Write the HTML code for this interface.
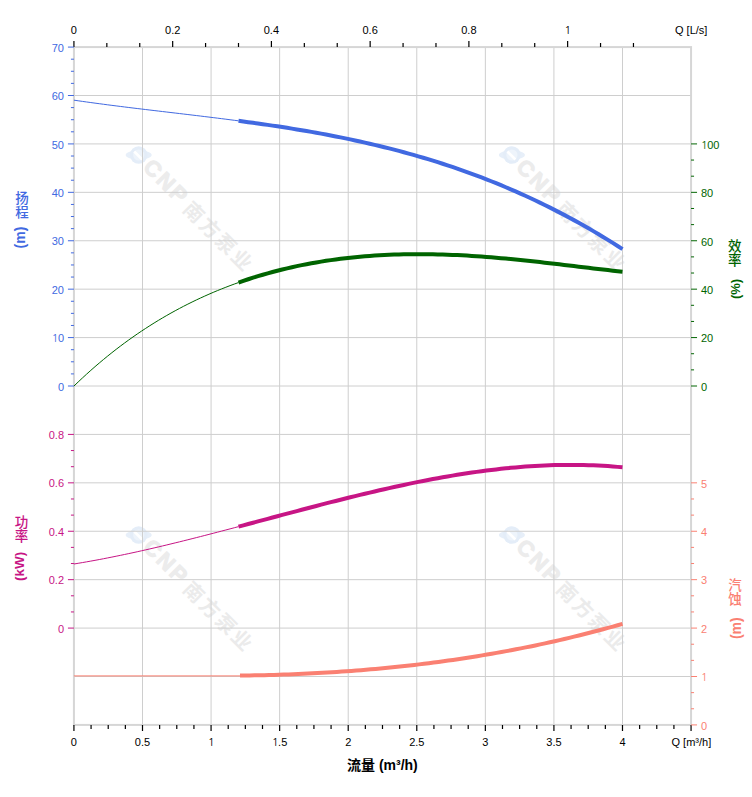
<!DOCTYPE html><html><head><meta charset="utf-8"><title>Pump curve</title><style>html,body{margin:0;padding:0;background:#fff;}svg{display:block;}text{font-family:'Liberation Sans', Arial, sans-serif;}</style></head><body><svg width="752" height="797" viewBox="0 0 752 797"><rect width="752" height="797" fill="#fff"/><g transform="translate(138.7,154.5)"><ellipse cx="0" cy="0.5" rx="13" ry="4.5" fill="#E7EFF9"/><circle cx="0" cy="0.5" r="8.8" fill="#E4EDF8"/><circle cx="0" cy="0.5" r="5.6" fill="#EEF4FB"/><path d="M-4.5,-3 L3.5,5" stroke="#FFFFFF" stroke-width="2.6" fill="none"/></g><g transform="translate(138.7,154.5) rotate(45)"><text x="12" y="7.5" font-size="22" font-weight="bold" letter-spacing="2.5" fill="#ECECEC" stroke="#ECECEC" stroke-width="1" style="font-family:'Liberation Sans', Arial, sans-serif">CNP</text><text x="70" y="9" font-size="20" font-weight="bold" letter-spacing="2.5" fill="#EBEBEB" style="font-family:'Liberation Sans', 'Noto Sans CJK SC', sans-serif">南方泵业</text></g><g transform="translate(511.9,154.5)"><ellipse cx="0" cy="0.5" rx="13" ry="4.5" fill="#E7EFF9"/><circle cx="0" cy="0.5" r="8.8" fill="#E4EDF8"/><circle cx="0" cy="0.5" r="5.6" fill="#EEF4FB"/><path d="M-4.5,-3 L3.5,5" stroke="#FFFFFF" stroke-width="2.6" fill="none"/></g><g transform="translate(511.9,154.5) rotate(45)"><text x="12" y="7.5" font-size="22" font-weight="bold" letter-spacing="2.5" fill="#ECECEC" stroke="#ECECEC" stroke-width="1" style="font-family:'Liberation Sans', Arial, sans-serif">CNP</text><text x="70" y="9" font-size="20" font-weight="bold" letter-spacing="2.5" fill="#EBEBEB" style="font-family:'Liberation Sans', 'Noto Sans CJK SC', sans-serif">南方泵业</text></g><g transform="translate(138.7,534.5)"><ellipse cx="0" cy="0.5" rx="13" ry="4.5" fill="#E7EFF9"/><circle cx="0" cy="0.5" r="8.8" fill="#E4EDF8"/><circle cx="0" cy="0.5" r="5.6" fill="#EEF4FB"/><path d="M-4.5,-3 L3.5,5" stroke="#FFFFFF" stroke-width="2.6" fill="none"/></g><g transform="translate(138.7,534.5) rotate(45)"><text x="12" y="7.5" font-size="22" font-weight="bold" letter-spacing="2.5" fill="#ECECEC" stroke="#ECECEC" stroke-width="1" style="font-family:'Liberation Sans', Arial, sans-serif">CNP</text><text x="70" y="9" font-size="20" font-weight="bold" letter-spacing="2.5" fill="#EBEBEB" style="font-family:'Liberation Sans', 'Noto Sans CJK SC', sans-serif">南方泵业</text></g><g transform="translate(511.9,534.5)"><ellipse cx="0" cy="0.5" rx="13" ry="4.5" fill="#E7EFF9"/><circle cx="0" cy="0.5" r="8.8" fill="#E4EDF8"/><circle cx="0" cy="0.5" r="5.6" fill="#EEF4FB"/><path d="M-4.5,-3 L3.5,5" stroke="#FFFFFF" stroke-width="2.6" fill="none"/></g><g transform="translate(511.9,534.5) rotate(45)"><text x="12" y="7.5" font-size="22" font-weight="bold" letter-spacing="2.5" fill="#ECECEC" stroke="#ECECEC" stroke-width="1" style="font-family:'Liberation Sans', Arial, sans-serif">CNP</text><text x="70" y="9" font-size="20" font-weight="bold" letter-spacing="2.5" fill="#EBEBEB" style="font-family:'Liberation Sans', 'Noto Sans CJK SC', sans-serif">南方泵业</text></g><path d="M142.50,47.08V724.92M211.07,47.08V724.92M279.64,47.08V724.92M348.21,47.08V724.92M416.78,47.08V724.92M485.35,47.08V724.92M553.92,47.08V724.92M622.49,47.08V724.92M73.93,95.50H691.06M73.93,143.91H691.06M73.93,192.33H691.06M73.93,240.75H691.06M73.93,289.17H691.06M73.93,337.58H691.06M73.93,386.00H691.06M73.93,434.42H691.06M73.93,482.83H691.06M73.93,531.25H691.06M73.93,579.67H691.06M73.93,628.08H691.06M73.93,676.50H691.06" stroke="#CECECE" stroke-width="1" fill="none"/><rect x="73.93" y="47.08" width="617.13" height="677.84" fill="none" stroke="#D6D6D6" stroke-width="2"/><path d="M73.93,41.08V47.08M106.84,42.88V47.08M139.76,42.88V47.08M172.67,41.08V47.08M205.58,42.88V47.08M238.50,42.88V47.08M271.41,41.08V47.08M304.33,42.88V47.08M337.24,42.88V47.08M370.15,41.08V47.08M403.07,42.88V47.08M435.98,42.88V47.08M468.89,41.08V47.08M501.81,42.88V47.08M534.72,42.88V47.08M567.63,41.08V47.08M600.55,42.88V47.08M633.46,42.88V47.08M73.93,724.92V730.92M91.07,724.92V728.92M108.22,724.92V728.92M125.36,724.92V728.92M142.50,724.92V730.92M159.64,724.92V728.92M176.78,724.92V728.92M193.93,724.92V728.92M211.07,724.92V730.92M228.21,724.92V728.92M245.35,724.92V728.92M262.50,724.92V728.92M279.64,724.92V730.92M296.78,724.92V728.92M313.92,724.92V728.92M331.07,724.92V728.92M348.21,724.92V730.92M365.35,724.92V728.92M382.49,724.92V728.92M399.64,724.92V728.92M416.78,724.92V730.92M433.92,724.92V728.92M451.06,724.92V728.92M468.21,724.92V728.92M485.35,724.92V730.92M502.49,724.92V728.92M519.63,724.92V728.92M536.78,724.92V728.92M553.92,724.92V730.92M571.06,724.92V728.92M588.20,724.92V728.92M605.35,724.92V728.92M622.49,724.92V730.92M639.63,724.92V728.92M656.77,724.92V728.92M673.92,724.92V728.92M691.06,724.92V730.92" stroke="#000" stroke-width="1.2" fill="none"/><text x="73.93" y="34" font-size="11" fill="#000" text-anchor="middle">0</text><text x="172.67" y="34" font-size="11" fill="#000" text-anchor="middle">0.2</text><text x="271.41" y="34" font-size="11" fill="#000" text-anchor="middle">0.4</text><text x="370.15" y="34" font-size="11" fill="#000" text-anchor="middle">0.6</text><text x="468.89" y="34" font-size="11" fill="#000" text-anchor="middle">0.8</text><text x="567.63" y="34" font-size="11" fill="#000" text-anchor="middle"><tspan style="font-family:NanumGothic,'Liberation Sans',sans-serif" letter-spacing="-0.55">1</tspan></text><text x="675" y="34" font-size="11" fill="#000">Q [L/s]</text><text x="73.93" y="746" font-size="11" fill="#000" text-anchor="middle">0</text><text x="142.50" y="746" font-size="11" fill="#000" text-anchor="middle">0.5</text><text x="211.07" y="746" font-size="11" fill="#000" text-anchor="middle"><tspan style="font-family:NanumGothic,'Liberation Sans',sans-serif" letter-spacing="-0.55">1</tspan></text><text x="279.64" y="746" font-size="11" fill="#000" text-anchor="middle"><tspan style="font-family:NanumGothic,'Liberation Sans',sans-serif" letter-spacing="-0.55">1</tspan>.5</text><text x="348.21" y="746" font-size="11" fill="#000" text-anchor="middle">2</text><text x="416.78" y="746" font-size="11" fill="#000" text-anchor="middle">2.5</text><text x="485.35" y="746" font-size="11" fill="#000" text-anchor="middle">3</text><text x="553.92" y="746" font-size="11" fill="#000" text-anchor="middle">3.5</text><text x="622.49" y="746" font-size="11" fill="#000" text-anchor="middle">4</text><text x="671.5" y="746" font-size="11" fill="#000">Q [m³/h]</text><path d="M67.93,386.00H73.93M70.93,373.90H73.93M70.93,361.79H73.93M70.93,349.69H73.93M67.93,337.58H73.93M70.93,325.48H73.93M70.93,313.37H73.93M70.93,301.27H73.93M67.93,289.17H73.93M70.93,277.06H73.93M70.93,264.96H73.93M70.93,252.85H73.93M67.93,240.75H73.93M70.93,228.64H73.93M70.93,216.54H73.93M70.93,204.44H73.93M67.93,192.33H73.93M70.93,180.23H73.93M70.93,168.12H73.93M70.93,156.02H73.93M67.93,143.91H73.93M70.93,131.81H73.93M70.93,119.71H73.93M70.93,107.60H73.93M67.93,95.50H73.93M70.93,83.39H73.93M70.93,71.29H73.93M70.93,59.19H73.93M67.93,47.08H73.93" stroke="#4169E1" stroke-width="1" fill="none"/><text x="64" y="390.60" font-size="11" fill="#4169E1" text-anchor="end">0</text><text x="64" y="342.18" font-size="11" fill="#4169E1" text-anchor="end"><tspan style="font-family:NanumGothic,'Liberation Sans',sans-serif" letter-spacing="-0.55">1</tspan>0</text><text x="64" y="293.77" font-size="11" fill="#4169E1" text-anchor="end">20</text><text x="64" y="245.35" font-size="11" fill="#4169E1" text-anchor="end">30</text><text x="64" y="196.93" font-size="11" fill="#4169E1" text-anchor="end">40</text><text x="64" y="148.51" font-size="11" fill="#4169E1" text-anchor="end">50</text><text x="64" y="100.10" font-size="11" fill="#4169E1" text-anchor="end">60</text><text x="64" y="51.68" font-size="11" fill="#4169E1" text-anchor="end">70</text><path d="M67.93,628.08H73.93M70.93,611.94H73.93M70.93,595.80H73.93M67.93,579.66H73.93M70.93,563.52H73.93M70.93,547.38H73.93M67.93,531.25H73.93M70.93,515.11H73.93M70.93,498.97H73.93M67.93,482.83H73.93M70.93,466.69H73.93M70.93,450.55H73.93M67.93,434.41H73.93" stroke="#C71585" stroke-width="1" fill="none"/><text x="64" y="632.68" font-size="11" fill="#C71585" text-anchor="end">0</text><text x="64" y="584.26" font-size="11" fill="#C71585" text-anchor="end">0.2</text><text x="64" y="535.85" font-size="11" fill="#C71585" text-anchor="end">0.4</text><text x="64" y="487.43" font-size="11" fill="#C71585" text-anchor="end">0.6</text><text x="64" y="439.01" font-size="11" fill="#C71585" text-anchor="end">0.8</text><path d="M691.06,386.00H697.06M691.06,369.86H694.06M691.06,353.72H694.06M691.06,337.58H697.06M691.06,321.44H694.06M691.06,305.31H694.06M691.06,289.17H697.06M691.06,273.03H694.06M691.06,256.89H694.06M691.06,240.75H697.06M691.06,224.61H694.06M691.06,208.47H694.06M691.06,192.33H697.06M691.06,176.19H694.06M691.06,160.05H694.06M691.06,143.91H697.06" stroke="#006400" stroke-width="1" fill="none"/><text x="701" y="390.80" font-size="11" fill="#006400">0</text><text x="701" y="342.38" font-size="11" fill="#006400">20</text><text x="701" y="293.97" font-size="11" fill="#006400">40</text><text x="701" y="245.55" font-size="11" fill="#006400">60</text><text x="701" y="197.13" font-size="11" fill="#006400">80</text><text x="701" y="148.72" font-size="11" fill="#006400"><tspan style="font-family:NanumGothic,'Liberation Sans',sans-serif" letter-spacing="-0.55">1</tspan>00</text><path d="M691.06,724.92H697.06M691.06,708.78H694.06M691.06,692.64H694.06M691.06,676.50H697.06M691.06,660.36H694.06M691.06,644.22H694.06M691.06,628.09H697.06M691.06,611.95H694.06M691.06,595.81H694.06M691.06,579.67H697.06M691.06,563.53H694.06M691.06,547.39H694.06M691.06,531.25H697.06M691.06,515.11H694.06M691.06,498.97H694.06M691.06,482.83H697.06" stroke="#FA8072" stroke-width="1" fill="none"/><text x="701" y="729.72" font-size="11" fill="#FA8072">0</text><text x="701" y="681.30" font-size="11" fill="#FA8072"><tspan style="font-family:NanumGothic,'Liberation Sans',sans-serif" letter-spacing="-0.55">1</tspan></text><text x="701" y="632.89" font-size="11" fill="#FA8072">2</text><text x="701" y="584.47" font-size="11" fill="#FA8072">3</text><text x="701" y="536.05" font-size="11" fill="#FA8072">4</text><text x="701" y="487.63" font-size="11" fill="#FA8072">5</text><path d="M73.93,100.16 L78.15,100.78 L82.37,101.38 L86.59,101.98 L90.81,102.56 L95.03,103.14 L99.25,103.70 L103.47,104.26 L107.69,104.82 L111.91,105.36 L116.13,105.90 L120.35,106.43 L124.57,106.96 L128.79,107.49 L133.01,108.00 L137.23,108.52 L141.45,109.03 L145.66,109.54 L149.88,110.04 L154.10,110.54 L158.32,111.04 L162.54,111.54 L166.76,112.04 L170.98,112.54 L175.20,113.04 L179.42,113.54 L183.64,114.04 L187.86,114.54 L192.08,115.05 L196.30,115.55 L200.52,116.06 L204.74,116.58 L208.96,117.09 L213.18,117.61 L217.40,118.14 L221.62,118.67 L225.84,119.20 L230.06,119.74 L234.28,120.29 L238.50,120.84" stroke="#4169E1" stroke-width="1" fill="none"/><path d="M238.50,120.84 L243.36,121.49 L248.22,122.15 L253.08,122.82 L257.94,123.50 L262.80,124.19 L267.66,124.89 L272.52,125.61 L277.38,126.34 L282.24,127.09 L287.10,127.85 L291.97,128.63 L296.83,129.42 L301.69,130.23 L306.55,131.06 L311.41,131.90 L316.27,132.77 L321.13,133.65 L325.99,134.56 L330.85,135.48 L335.71,136.43 L340.57,137.40 L345.43,138.39 L350.29,139.40 L355.15,140.44 L360.01,141.50 L364.88,142.59 L369.74,143.70 L374.60,144.83 L379.46,146.00 L384.32,147.19 L389.18,148.40 L394.04,149.65 L398.90,150.92 L403.76,152.23 L408.62,153.56 L413.48,154.92 L418.34,156.32 L423.20,157.74 L428.06,159.20 L432.92,160.69 L437.78,162.21 L442.65,163.76 L447.51,165.35 L452.37,166.97 L457.23,168.63 L462.09,170.32 L466.95,172.05 L471.81,173.82 L476.67,175.62 L481.53,177.46 L486.39,179.34 L491.25,181.25 L496.11,183.21 L500.97,185.20 L505.83,187.23 L510.69,189.31 L515.56,191.42 L520.42,193.57 L525.28,195.77 L530.14,198.01 L535.00,200.29 L539.86,202.61 L544.72,204.98 L549.58,207.39 L554.44,209.85 L559.30,212.35 L564.16,214.89 L569.02,217.48 L573.88,220.12 L578.74,222.80 L583.60,225.53 L588.47,228.31 L593.33,231.13 L598.19,234.01 L603.05,236.93 L607.91,239.90 L612.77,242.92 L617.63,245.99 L622.49,249.11" stroke="#4169E1" stroke-width="4" fill="none" stroke-linejoin="round"/><path d="M73.93,386.07 L78.15,382.01 L82.37,378.04 L86.59,374.16 L90.81,370.37 L95.03,366.66 L99.25,363.04 L103.47,359.50 L107.69,356.05 L111.91,352.67 L116.13,349.37 L120.35,346.15 L124.57,343.00 L128.79,339.93 L133.01,336.94 L137.23,334.01 L141.45,331.16 L145.66,328.38 L149.88,325.66 L154.10,323.01 L158.32,320.43 L162.54,317.91 L166.76,315.46 L170.98,313.07 L175.20,310.74 L179.42,308.47 L183.64,306.26 L187.86,304.11 L192.08,302.02 L196.30,299.98 L200.52,298.00 L204.74,296.08 L208.96,294.21 L213.18,292.39 L217.40,290.63 L221.62,288.91 L225.84,287.25 L230.06,285.64 L234.28,284.07 L238.50,282.55" stroke="#006400" stroke-width="1" fill="none"/><path d="M238.50,282.55 L243.36,280.87 L248.22,279.24 L253.08,277.68 L257.94,276.17 L262.80,274.73 L267.66,273.34 L272.52,272.01 L277.38,270.73 L282.24,269.51 L287.10,268.34 L291.97,267.23 L296.83,266.16 L301.69,265.15 L306.55,264.19 L311.41,263.28 L316.27,262.42 L321.13,261.60 L325.99,260.83 L330.85,260.11 L335.71,259.43 L340.57,258.80 L345.43,258.21 L350.29,257.67 L355.15,257.17 L360.01,256.70 L364.88,256.28 L369.74,255.90 L374.60,255.56 L379.46,255.26 L384.32,255.00 L389.18,254.77 L394.04,254.58 L398.90,254.42 L403.76,254.31 L408.62,254.22 L413.48,254.17 L418.34,254.15 L423.20,254.16 L428.06,254.21 L432.92,254.29 L437.78,254.39 L442.65,254.53 L447.51,254.69 L452.37,254.88 L457.23,255.10 L462.09,255.35 L466.95,255.62 L471.81,255.91 L476.67,256.23 L481.53,256.57 L486.39,256.93 L491.25,257.31 L496.11,257.72 L500.97,258.14 L505.83,258.58 L510.69,259.04 L515.56,259.51 L520.42,260.00 L525.28,260.50 L530.14,261.02 L535.00,261.55 L539.86,262.09 L544.72,262.64 L549.58,263.20 L554.44,263.76 L559.30,264.33 L564.16,264.91 L569.02,265.49 L573.88,266.07 L578.74,266.66 L583.60,267.24 L588.47,267.82 L593.33,268.40 L598.19,268.97 L603.05,269.54 L607.91,270.10 L612.77,270.65 L617.63,271.19 L622.49,271.71" stroke="#006400" stroke-width="4" fill="none" stroke-linejoin="round"/><path d="M73.93,564.00 L78.15,563.30 L82.37,562.59 L86.59,561.85 L90.81,561.10 L95.03,560.33 L99.25,559.55 L103.47,558.74 L107.69,557.92 L111.91,557.09 L116.13,556.23 L120.35,555.37 L124.57,554.48 L128.79,553.59 L133.01,552.68 L137.23,551.75 L141.45,550.81 L145.66,549.86 L149.88,548.90 L154.10,547.93 L158.32,546.94 L162.54,545.95 L166.76,544.94 L170.98,543.92 L175.20,542.89 L179.42,541.86 L183.64,540.81 L187.86,539.76 L192.08,538.70 L196.30,537.63 L200.52,536.56 L204.74,535.47 L208.96,534.39 L213.18,533.29 L217.40,532.19 L221.62,531.09 L225.84,529.98 L230.06,528.87 L234.28,527.75 L238.50,526.63" stroke="#C71585" stroke-width="1" fill="none"/><path d="M238.50,526.63 L243.36,525.34 L248.22,524.04 L253.08,522.74 L257.94,521.44 L262.80,520.14 L267.66,518.84 L272.52,517.54 L277.38,516.24 L282.24,514.94 L287.10,513.64 L291.97,512.35 L296.83,511.06 L301.69,509.77 L306.55,508.49 L311.41,507.21 L316.27,505.95 L321.13,504.68 L325.99,503.43 L330.85,502.18 L335.71,500.94 L340.57,499.72 L345.43,498.50 L350.29,497.29 L355.15,496.10 L360.01,494.91 L364.88,493.74 L369.74,492.59 L374.60,491.44 L379.46,490.31 L384.32,489.20 L389.18,488.10 L394.04,487.02 L398.90,485.96 L403.76,484.92 L408.62,483.89 L413.48,482.89 L418.34,481.90 L423.20,480.93 L428.06,479.99 L432.92,479.07 L437.78,478.17 L442.65,477.29 L447.51,476.44 L452.37,475.61 L457.23,474.81 L462.09,474.04 L466.95,473.29 L471.81,472.57 L476.67,471.87 L481.53,471.21 L486.39,470.57 L491.25,469.96 L496.11,469.39 L500.97,468.84 L505.83,468.33 L510.69,467.85 L515.56,467.41 L520.42,466.99 L525.28,466.61 L530.14,466.27 L535.00,465.96 L539.86,465.69 L544.72,465.46 L549.58,465.27 L554.44,465.11 L559.30,464.99 L564.16,464.91 L569.02,464.88 L573.88,464.88 L578.74,464.92 L583.60,465.01 L588.47,465.14 L593.33,465.32 L598.19,465.54 L603.05,465.80 L607.91,466.11 L612.77,466.47 L617.63,466.87 L622.49,467.32" stroke="#C71585" stroke-width="4" fill="none" stroke-linejoin="round"/><path d="M73.93,675.90 L240.00,675.90" stroke="#FA8072" stroke-width="1" fill="none"/><path d="M240.00,675.58 L244.84,675.52 L249.68,675.44 L254.52,675.36 L259.37,675.26 L264.21,675.15 L269.05,675.02 L273.89,674.89 L278.73,674.74 L283.57,674.58 L288.42,674.40 L293.26,674.22 L298.10,674.02 L302.94,673.80 L307.78,673.58 L312.62,673.33 L317.47,673.08 L322.31,672.81 L327.15,672.53 L331.99,672.24 L336.83,671.93 L341.67,671.60 L346.52,671.26 L351.36,670.91 L356.20,670.54 L361.04,670.16 L365.88,669.76 L370.72,669.35 L375.57,668.92 L380.41,668.48 L385.25,668.02 L390.09,667.55 L394.93,667.06 L399.77,666.55 L404.62,666.03 L409.46,665.49 L414.30,664.94 L419.14,664.37 L423.98,663.78 L428.82,663.18 L433.67,662.56 L438.51,661.92 L443.35,661.26 L448.19,660.59 L453.03,659.90 L457.87,659.20 L462.72,658.47 L467.56,657.73 L472.40,656.97 L477.24,656.20 L482.08,655.40 L486.92,654.59 L491.77,653.75 L496.61,652.90 L501.45,652.03 L506.29,651.15 L511.13,650.24 L515.97,649.31 L520.82,648.37 L525.66,647.41 L530.50,646.42 L535.34,645.42 L540.18,644.40 L545.02,643.35 L549.87,642.29 L554.71,641.21 L559.55,640.11 L564.39,638.98 L569.23,637.84 L574.07,636.68 L578.92,635.49 L583.76,634.29 L588.60,633.06 L593.44,631.81 L598.28,630.54 L603.12,629.25 L607.97,627.94 L612.81,626.61 L617.65,625.25 L622.49,623.87" stroke="#FA8072" stroke-width="4" fill="none" stroke-linejoin="round"/><text x="22.00" y="202.60" font-size="13.5" font-weight="500" fill="#4169E1" text-anchor="middle" style="font-family:'Liberation Sans', 'Noto Sans CJK SC', sans-serif">扬</text><text x="22.00" y="217.40" font-size="13.5" font-weight="500" fill="#4169E1" text-anchor="middle" style="font-family:'Liberation Sans', 'Noto Sans CJK SC', sans-serif">程</text><text transform="translate(21.50,237.50) rotate(-90)" x="0" y="3.67" font-size="14" font-weight="bold" fill="#4169E1" text-anchor="middle">(m)</text><text x="21.50" y="526.60" font-size="13.5" font-weight="500" fill="#C71585" text-anchor="middle" style="font-family:'Liberation Sans', 'Noto Sans CJK SC', sans-serif">功</text><text x="21.50" y="541.40" font-size="13.5" font-weight="500" fill="#C71585" text-anchor="middle" style="font-family:'Liberation Sans', 'Noto Sans CJK SC', sans-serif">率</text><text transform="translate(20.70,566.40) rotate(-90)" x="0" y="3.54" font-size="13.5" font-weight="bold" fill="#C71585" text-anchor="middle">(kW)</text><text x="734.80" y="250.60" font-size="13.5" font-weight="500" fill="#006400" text-anchor="middle" style="font-family:'Liberation Sans', 'Noto Sans CJK SC', sans-serif">效</text><text x="734.80" y="265.40" font-size="13.5" font-weight="500" fill="#006400" text-anchor="middle" style="font-family:'Liberation Sans', 'Noto Sans CJK SC', sans-serif">率</text><text transform="translate(736.60,289.00) rotate(-90)" x="0" y="3.41" font-size="13" font-weight="bold" fill="#006400" text-anchor="middle">(%)</text><text x="735.00" y="589.60" font-size="13.5" font-weight="500" fill="#FA8072" text-anchor="middle" style="font-family:'Liberation Sans', 'Noto Sans CJK SC', sans-serif">汽</text><text x="735.00" y="604.40" font-size="13.5" font-weight="500" fill="#FA8072" text-anchor="middle" style="font-family:'Liberation Sans', 'Noto Sans CJK SC', sans-serif">蚀</text><text transform="translate(736.90,628.20) rotate(-90)" x="0" y="3.67" font-size="14" font-weight="bold" fill="#FA8072" text-anchor="middle">(m)</text><text x="347" y="770" font-size="14" font-weight="bold" fill="#000" style="font-family:'Liberation Sans', 'Noto Sans CJK SC', sans-serif">流量 (m³/h)</text></svg></body></html>
